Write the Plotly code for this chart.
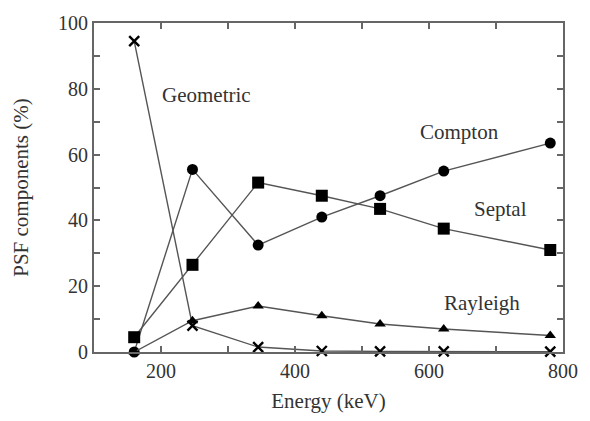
import plotly.graph_objects as go

energy = [160, 247, 345, 440, 527, 622, 781]
geometric = [94.5, 8.0, 1.5, 0.3, 0.2, 0.2, 0.1]
compton = [0.0, 55.5, 32.5, 41.0, 47.5, 55.0, 63.5]
septal = [4.5, 26.5, 51.5, 47.5, 43.5, 37.5, 31.0]
rayleigh = [0.0, 9.5, 14.0, 11.0, 8.5, 7.0, 5.0]

series_names = ["Geometric", "Compton", "Septal", "Rayleigh"]
label_x = [268, 646, 707, 679]
label_y = [78, 67, 43.5, 14.8]

font_fam = "Liberation Serif, DejaVu Serif, serif"
txt_col = "#333333"

fig = go.Figure()
specs = [
    (geometric, "x-thin", 10),
    (compton, "circle", 11),
    (septal, "square", 12),
    (rayleigh, "triangle-up", 10),
]
for name, (vals, sym, sz) in zip(series_names, specs):
    fig.add_trace(go.Scatter(
        x=energy, y=vals, mode="lines+markers", name=name,
        line=dict(color="#555555", width=1.4),
        marker=dict(symbol=sym, size=sz, color="black",
                    line=dict(color="black", width=2.4 if sym == "x-thin" else 0)),
        cliponaxis=False,
    ))

for name, lx, ly in zip(series_names, label_x, label_y):
    fig.add_annotation(x=lx, y=ly, text=name, showarrow=False,
                       font=dict(family=font_fam, size=21, color=txt_col))

axis_common = dict(
    showgrid=False, zeroline=False, showline=True, linecolor="#666666", linewidth=2,
    mirror="ticks", ticks="inside", ticklen=6, tickcolor="#666666", tickwidth=1.5,
    tickfont=dict(family=font_fam, size=20, color=txt_col),
    ticklabeloverflow="allow",
)
fig.update_xaxes(range=[100, 800], dtick=200, tick0=0,
                 minor=dict(dtick=100, tick0=0, ticks="inside", ticklen=6,
                            tickcolor="#666666", tickwidth=1.5),
                 title=dict(text="Energy (keV)", font=dict(family=font_fam, size=21, color=txt_col),
                            standoff=12),
                 **axis_common)
fig.update_yaxes(range=[0, 100], dtick=20,
                 minor=dict(dtick=10, ticks="inside", ticklen=6,
                            tickcolor="#666666", tickwidth=1.5),
                 title=dict(text="PSF components (%)", font=dict(family=font_fam, size=21, color=txt_col),
                            standoff=24),
                 **axis_common)

fig.update_layout(
    width=590, height=421,
    margin=dict(l=94, r=16, t=23, b=61),
    paper_bgcolor="white", plot_bgcolor="white",
    showlegend=False,
)

fig.write_html("out.html", config={"displayModeBar": False},
               post_script="document.body.style.margin='0';")
